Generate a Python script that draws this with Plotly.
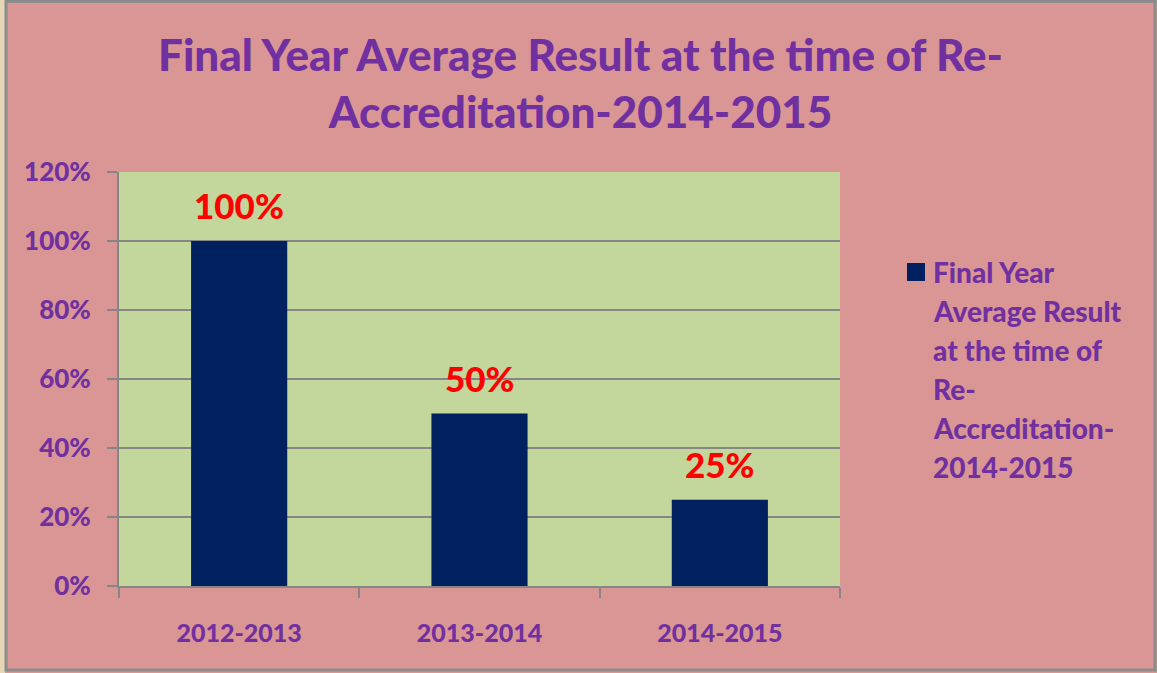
import plotly.graph_objects as go

categories = ["2012-2013", "2013-2014", "2014-2015"]
values = [1.00, 0.50, 0.25]
labels = ["100%", "50%", "25%"]
series_name = "Final Year Average Result at the time of Re-Accreditation-2014-2015"
legend_lines = ["Final Year", "Average Result", "at the time of", "Re-", "Accreditation-", "2014-2015"]
title_text = "Final Year Average Result at the time of Re-<br>Accreditation-2014-2015"

W, H = 1157, 673
L, R, T, B = 119, 840, 172, 586
pw, ph = R - L, B - T

def px(x):
    return (x - L) / pw

def py(y):
    return (B - y) / ph

PURPLE = "#7030A0"
FONT = "Lato, Open Sans, sans-serif"
WT = 900

fig = go.Figure()
fig.add_trace(go.Bar(
    x=categories, y=values, name=series_name,
    marker=dict(color="#002060", line=dict(width=0)),
    width=0.4, showlegend=False,
))

annotations = []
for c, v, lab in zip(categories, values, labels):
    annotations.append(dict(
        x=c, y=v, xref="x", yref="y", text=lab, showarrow=False,
        yanchor="middle", yshift=36,
        font=dict(family=FONT, size=35, color="#FF0000", weight=WT),
    ))

line_y0 = 272
for i, t in enumerate(legend_lines):
    annotations.append(dict(
        x=px(931), y=py(line_y0 + 39 * i), xref="paper", yref="paper",
        text=t, showarrow=False, xanchor="left", yanchor="middle",
        font=dict(family=FONT, size=28, color=PURPLE, weight=WT),
    ))

annotations.append(dict(
    x=px(580), y=py(83), xref="paper", yref="paper", text=title_text,
    showarrow=False, xanchor="center", yanchor="middle",
    font=dict(family=FONT, size=44, color=PURPLE, weight=WT),
))

shapes = [
    dict(type="rect", xref="paper", yref="paper", x0=px(0), x1=px(5), y0=py(H), y1=py(0),
         fillcolor="#E6D6B4", line=dict(width=0), layer="below"),
    dict(type="rect", xref="paper", yref="paper", x0=px(6), x1=px(1155), y0=py(670), y1=py(1.5),
         fillcolor="rgba(0,0,0,0)", line=dict(color="#8C8C8C", width=3)),
    dict(type="rect", xref="paper", yref="paper", x0=px(907), x1=px(925), y0=py(281), y1=py(263),
         fillcolor="#002060", line=dict(width=0)),
]

fig.update_layout(
    width=W, height=H,
    margin=dict(l=L, r=W - R, t=T, b=H - B, autoexpand=False),
    paper_bgcolor="#D99694",
    plot_bgcolor="#C3D69B",
    bargap=0.6,
    annotations=annotations,
    shapes=shapes,
    font=dict(family=FONT, color=PURPLE),
)
fig.update_xaxes(
    showline=True, linecolor="#868686", linewidth=2,
    ticks="outside", ticklen=10, tickcolor="#868686", tickwidth=1.5,
    tickson="boundaries", showgrid=False,
    tickfont=dict(family=FONT, size=25, color=PURPLE, weight=WT),
    ticklabelstandoff=24,
)
fig.update_yaxes(
    range=[0, 1.2], dtick=0.2, tickformat=".0%",
    showline=True, linecolor="#868686", linewidth=2,
    ticks="outside", ticklen=10, tickcolor="#868686", tickwidth=1.5,
    showgrid=True, gridcolor="#868686", gridwidth=1.5, zeroline=False,
    tickfont=dict(family=FONT, size=26, color=PURPLE, weight=WT),
    ticklabelstandoff=11,
)

fig.write_html(
    "out.html",
    config={"displayModeBar": False},
    post_script="document.body.style.margin='0';document.body.style.overflow='hidden';",
)
